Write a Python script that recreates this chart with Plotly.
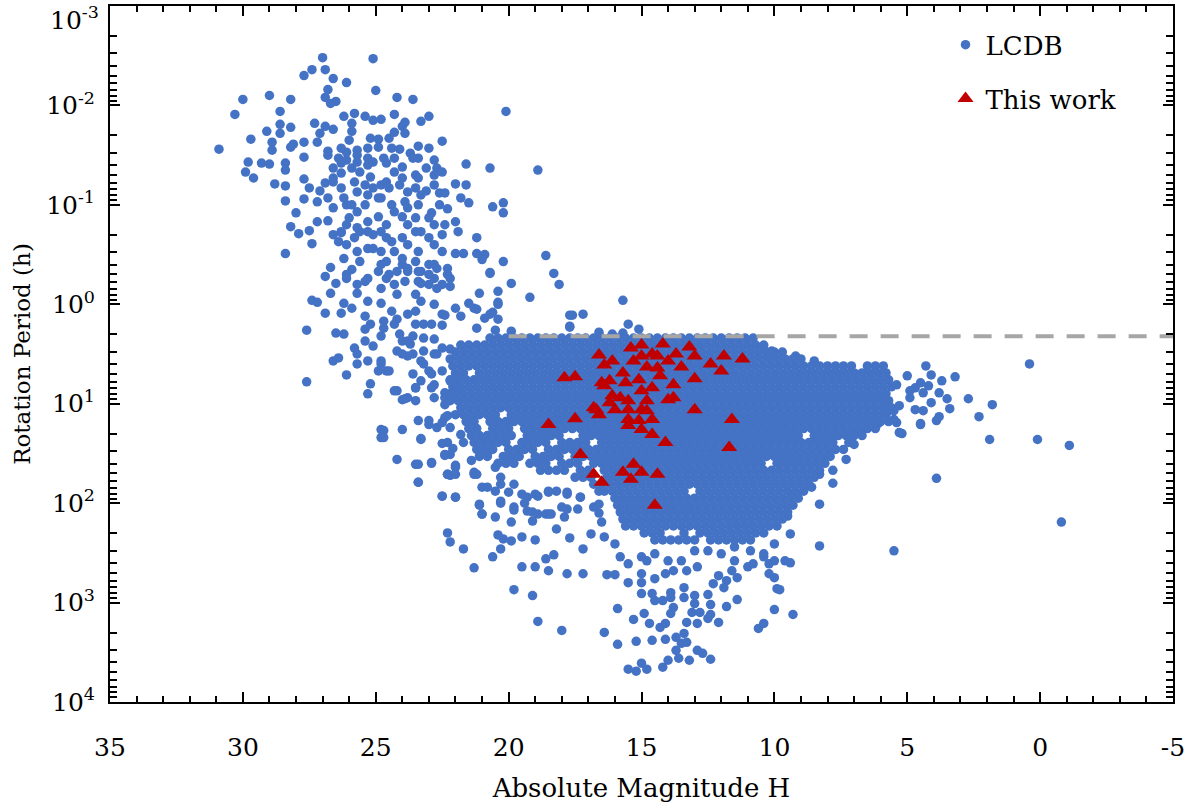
import plotly.graph_objects as go

# ---------------- data (H = absolute magnitude, logP = log10 rotation period [h]) ----------------
# LCDB: small fast rotators (upper-left cloud)
fast_H = [27.0, 25.1, 27.4, 26.9, 27.7, 26.6, 26.1, 26.8, 25.0, 26.9, 26.5, 26.7, 30.0, 29.0, 28.2, 24.2, 23.6, 20.1,
          30.3, 28.6, 26.2, 25.8, 25.4, 25.1, 24.8, 24.3, 23.9, 24.0, 23.3, 23.0, 28.6, 28.2, 27.3, 26.9, 26.6, 25.9,
          25.9, 29.1, 28.6, 29.7, 28.9, 27.7, 27.1, 27.2, 26.0, 25.2, 24.9, 24.5, 24.3, 23.9, 22.5, 30.9, 28.9, 28.2,
          28.1, 27.7, 26.8, 26.8, 26.3, 26.1, 25.7, 25.3, 24.9, 24.4, 24.1, 23.7, 23.4, 23.0, 29.8, 29.9, 29.6, 29.3,
          29.0, 28.4, 28.4, 26.4, 26.1, 25.7, 25.3, 24.7, 24.6, 24.3, 24.0, 23.6, 23.4, 22.8, 22.7, 21.6, 20.7, 26.6,
          26.3, 25.9, 25.6, 25.2, 24.8, 24.3, 23.5, 23.1, 22.8, 22.5, 28.8, 28.4, 27.7, 27.5, 26.9, 27.1, 26.6, 26.3,
          25.8, 25.4, 25.1, 24.5, 24.1, 23.5, 23.1, 22.6, 22.4, 22.0, 21.6, 28.4, 27.7, 27.2, 26.8, 26.6, 26.2, 25.9,
          25.4, 24.9, 24.4, 23.9, 23.4, 22.9, 22.6, 22.3, 21.8, 21.5, 20.6, 20.2, 20.2, 28.0, 28.2, 27.9, 27.5, 27.4,
          27.2, 26.8, 26.6, 26.3, 26.0, 25.7, 25.3, 24.9, 24.6, 24.0, 23.8, 23.3, 22.8, 22.4, 22.0, 21.9, 21.2, 25.6,
          25.1, 24.4, 28.4, 26.4, 26.1, 25.7, 25.3, 24.8, 24.3, 23.8, 23.4, 22.8, 22.5, 22.0, 21.7, 21.2, 20.9, 20.2,
          20.7, 19.9, 26.9, 26.7, 26.5, 26.2, 25.9, 25.6, 25.3, 24.9, 24.6, 24.6, 24.0, 23.9, 23.5, 23.4, 23.0, 22.8,
          22.3, 22.2, 26.6, 26.3, 25.7, 25.3, 25.1, 25.7, 26.1, 25.3, 24.8, 24.6, 24.0, 23.8, 23.3, 23.4, 22.8, 24.3,
          23.8, 23.5, 23.0, 24.8, 24.6, 24.0, 23.5, 23.0, 22.5, 25.1, 24.0, 23.8, 23.3, 22.8, 23.0, 22.5, 24.3, 25.7,
          26.1, 25.8, 26.3, 26.1, 25.7, 25.3]
fast_logP = [-2.48, -2.47, -2.36, -2.36, -2.30, -2.27, -2.23, -2.16, -2.15, -2.08, -2.04, -2.02, -2.06, -2.10, -2.06,
             -2.08, -2.06, -1.94, -1.91, -1.94, -1.89, -1.92, -1.89, -1.85, -1.86, -1.91, -1.83, -1.79, -1.84, -1.89,
             -1.81, -1.78, -1.82, -1.79, -1.76, -1.82, -1.74, -1.74, -1.72, -1.66, -1.63, -1.63, -1.72, -1.63, -1.65,
             -1.67, -1.66, -1.67, -1.73, -1.72, -1.64, -1.56, -1.55, -1.58, -1.61, -1.48, -1.54, -1.50, -1.57, -1.53,
             -1.55, -1.57, -1.58, -1.57, -1.56, -1.52, -1.59, -1.57, -1.43, -1.33, -1.27, -1.42, -1.41, -1.42, -1.35,
             -1.47, -1.45, -1.50, -1.47, -1.47, -1.42, -1.47, -1.38, -1.47, -1.47, -1.45, -1.37, -1.41, -1.37, -1.37,
             -1.32, -1.37, -1.33, -1.28, -1.20, -1.33, -1.30, -1.37, -1.30, -1.33, -1.21, -1.19, -1.26, -1.17, -1.22,
             -1.14, -1.23, -1.17, -1.23, -1.20, -1.17, -1.17, -1.20, -1.17, -1.14, -1.12, -1.12, -1.21, -1.20, -1.04,
             -1.06, -1.03, -1.07, -0.97, -1.07, -1.00, -1.00, -1.07, -1.00, -1.03, -1.00, -0.92, -1.00, -0.96, -1.07,
             -1.02, -0.98, -1.02, -0.92, -0.92, -0.78, -0.71, -0.74, -0.61, -0.83, -0.84, -0.70, -0.72, -0.87, -0.93,
             -0.83, -0.88, -0.80, -0.88, -0.80, -0.73, -0.80, -0.80, -0.83, -0.73, -0.67, -0.73, -0.70, -0.63, -0.51,
             -0.63, -0.60, -0.53, -0.56, -0.53, -0.53, -0.60, -0.53, -0.60, -0.53, -0.51, -0.51, -0.51, -0.50, -0.43,
             -0.32, -0.21, -0.28, -0.37, -0.21, -0.46, -0.35, -0.43, -0.26, -0.33, -0.43, -0.26, -0.40, -0.23, -0.43,
             -0.23, -0.40, -0.26, -0.36, -0.26, -1.27, -1.42, -1.43, -1.40, -1.43, -1.13, -1.00, -1.10, -1.07, -1.23,
             -1.27, -1.13, -1.10, -1.27, -1.20, -0.93, -0.97, -0.87, -0.87, -0.73, -0.67, -0.67, -0.73, -0.67, -0.70,
             -0.56, -0.46, -0.33, -0.33, -0.40, -0.20, -0.20, -0.20, -0.20, -0.26, -0.67, -0.73, -0.80, -0.77, -0.73]

# LCDB: transition zone between the fast cloud and the main clump
mid_H = [26.7, 27.4, 27.2, 26.9, 26.2, 26.3, 25.9, 25.7, 25.3, 25.4, 25.2, 25.4, 27.6, 26.5, 26.2, 25.4, 25.1, 24.8,
         24.7, 24.4, 24.2, 23.8, 23.5, 23.5, 23.2, 22.9, 23.2, 22.8, 22.5, 22.5, 22.4, 22.0, 21.8, 21.5, 21.3, 21.1,
         20.7, 20.4, 20.4, 20.7, 19.2, 18.3, 18.1, 17.6, 17.2, 17.7, 24.8, 24.5, 24.2, 23.8, 23.4, 23.3, 23.0, 22.7,
         22.3, 22.2, 22.7, 23.5, 24.2, 24.8, 25.4, 26.1, 24.8, 23.3, 22.8, 25.8, 26.6, 26.4, 25.7, 25.3, 24.9, 24.6,
         24.8, 24.2, 24.0, 23.7, 23.8, 23.3, 22.8, 22.5, 22.2, 27.6, 26.1, 25.7, 25.2, 25.3, 24.2, 24.0, 23.8, 23.5,
         23.5, 23.3, 22.8, 22.8, 22.4, 22.4, 21.9, 22.0, 22.5, 23.0, 24.8, 24.8, 24.0, 23.4, 23.3, 23.0, 22.7, 22.4,
         22.2, 22.0, 22.3, 21.8, 21.7, 24.2, 23.5, 22.9, 23.4, 22.4, 22.2, 22.0, 22.3, 21.4, 21.3, 21.0, 22.5, 22.0,
         21.1, 21.0, 20.5, 20.3, 19.8, 19.3, 18.9, 18.5, 18.0, 17.8, 17.3, 16.8, 20.8, 20.5, 20.3, 19.8, 19.5, 19.0,
         18.5, 18.2, 24.7, 24.3, 24.1, 23.8, 23.6, 24.0, 23.6, 23.2, 22.7, 23.2, 23.6, 23.5, 22.9, 22.2, 22.2, 22.9,
         22.4, 24.3, 23.9, 24.5, 24.8, 23.0, 22.5, 22.3, 24.7, 24.7, 23.3, 22.5, 22.1, 22.4, 22.0, 22.2, 21.3, 18.9,
         21.0, 18.6, 20.4, 21.2, 20.6, 20.9, 20.4, 15.7, 17.7, 15.5, 21.2, 20.5, 19.9, 16.6, 16.1, 15.7, 15.1, 17.7,
         10.4, 10.1, 9.2, 8.5]
mid_logP = [-0.11, -0.04, -0.02, 0.09, -0.01, 0.09, 0.04, -0.11, -0.03, 0.12, 0.20, 0.25, 0.26, 0.29, 0.30, 0.37, 0.42,
            0.32, 0.17, 0.07, 0.15, 0.10, 0.07, 0.20, 0.20, 0.20, 0.34, 0.35, 0.21, 0.10, 0.11, 0.04, 0.12, -0.01, 0.04,
            -0.11, 0.10, 0.00, -0.13, -0.31, -0.07, -0.31, -0.20, 0.11, 0.10, 0.22, -0.40, -0.30, -0.33, -0.36, -0.33,
            -0.21, -0.30, -0.36, -0.30, -0.18, -0.16, -0.10, -0.10, -0.16, -0.23, -0.30, -0.01, -0.03, 0.00, 0.44, 0.57,
            0.54, 0.50, 0.57, 0.67, 0.67, 0.57, 0.47, 0.37, 0.40, 0.52, 0.57, 0.50, 0.44, 0.45, 0.78, 0.71, 0.60, 0.80,
            0.90, 0.87, 0.96, 0.94, 0.97, 0.84, 0.77, 0.81, 0.94, 0.89, 1.01, 0.84, 0.74, 0.67, 0.67, 1.26, 1.34, 1.26,
            1.17, 1.36, 1.21, 1.24, 1.14, 1.24, 1.11, 1.39, 1.31, 1.39, 1.56, 1.61, 1.59, 1.79, 1.51, 1.51, 1.64, 1.71,
            1.57, 1.71, 1.84, 1.93, 1.94, 2.01, 2.11, 1.88, 1.98, 2.04, 2.08, 2.11, 2.11, 2.04, 1.91, 1.94, 2.04, 1.51,
            1.64, 1.74, 1.81, 1.91, 1.91, 1.88, 1.88, 0.24, 0.20, 0.30, 0.37, 0.32, 0.50, 0.50, 0.47, 0.50, 0.60, 0.70,
            0.84, 0.70, 0.77, 0.90, 0.84, 0.94, 0.87, 0.95, 0.67, 0.60, 1.17, 1.19, 1.12, 1.27, 1.34, 1.35, 1.40, 1.45,
            1.52, 1.62, 1.72, 1.69, -1.35, -0.45, -0.49, -0.02, 0.05, 0.08, 0.14, 0.15, -0.04, 0.23, 0.20, 0.24, 0.26,
            0.27, 0.28, 0.30, 0.29, 0.25, 0.11, 0.45, 0.47, 0.52, 0.57]

# LCDB: main clump, read row by row (one list of H per period row)
core_logP = [0.34, 0.41, 0.48, 0.55, 0.62, 0.69, 0.76, 0.83, 0.90, 0.97, 1.04, 1.11, 1.18, 1.25, 1.32, 1.39, 1.46,
             1.53, 1.60, 1.67, 1.74, 1.81, 1.88, 1.95, 2.02, 2.09, 2.16, 2.23, 2.30, 2.37]
core_H = [
    [20.7, 20.4, 20.1, 19.8, 19.5, 19.2, 18.9, 18.6, 18.3, 18.0, 17.7, 17.4, 17.1, 16.8, 16.5, 16.2, 15.9, 15.6, 15.3,
     15.0, 14.7, 14.4, 14.1, 13.8, 13.5, 13.2, 12.9, 12.6, 12.3, 12.0, 11.7, 11.4, 11.1, 10.8],
    [21.8, 21.5, 21.2, 20.9, 20.6, 20.3, 20.0, 19.7, 19.4, 19.1, 18.8, 18.5, 18.2, 17.9, 17.6, 17.3, 17.0, 16.7, 16.4,
     16.1, 15.8, 15.5, 15.2, 14.9, 14.6, 14.3, 14.0, 13.7, 13.4, 13.1, 12.8, 12.5, 12.2, 11.9, 11.6, 11.3, 11.0, 10.7,
     10.4],
    [22.0, 21.7, 21.4, 21.1, 20.8, 20.5, 20.2, 19.9, 19.6, 19.3, 19.0, 18.7, 18.4, 18.1, 17.8, 17.5, 17.2, 16.9, 16.6,
     16.3, 16.0, 15.7, 15.4, 15.1, 14.8, 14.5, 14.2, 13.9, 13.6, 13.3, 13.0, 12.7, 12.4, 12.1, 11.8, 11.5, 11.2, 10.9,
     10.6, 10.3, 10.0, 9.7],
    [22.2, 21.9, 21.6, 21.3, 21.0, 20.7, 20.4, 20.1, 19.8, 19.5, 19.2, 18.9, 18.6, 18.3, 18.0, 17.7, 17.4, 17.1, 16.8,
     16.5, 16.2, 15.9, 15.6, 15.3, 15.0, 14.7, 14.4, 14.1, 13.8, 13.5, 13.2, 12.9, 12.6, 12.3, 12.0, 11.7, 11.4, 11.1,
     10.8, 10.5, 10.2, 9.9, 9.6, 9.3, 9.0],
    [22.1, 21.8, 21.5, 21.2, 20.9, 20.6, 20.3, 20.0, 19.7, 19.4, 19.1, 18.8, 18.5, 18.2, 17.9, 17.6, 17.3, 17.0, 16.7,
     16.4, 16.1, 15.8, 15.5, 15.2, 14.9, 14.6, 14.3, 14.0, 13.7, 13.4, 13.1, 12.8, 12.5, 12.2, 11.9, 11.6, 11.3, 11.0,
     10.7, 10.4, 10.1, 9.8, 9.5, 9.2, 8.9, 8.6, 8.3, 8.0, 7.7, 7.4, 7.1, 6.5, 6.2, 5.9],
    [22.0, 21.7, 21.1, 20.8, 20.5, 20.2, 19.9, 19.6, 19.3, 19.0, 18.7, 18.4, 18.1, 17.8, 17.5, 17.2, 16.9, 16.6, 16.3,
     16.0, 15.7, 15.4, 15.1, 14.8, 14.5, 14.2, 13.9, 13.6, 13.3, 13.0, 12.7, 12.4, 12.1, 11.8, 11.5, 11.2, 10.9, 10.6,
     10.3, 10.0, 9.7, 9.4, 9.1, 8.8, 8.5, 8.2, 7.9, 7.6, 7.3, 7.0, 6.7, 6.4, 6.1, 5.8],
    [22.2, 21.9, 21.6, 21.3, 21.0, 20.7, 20.4, 20.1, 19.8, 19.5, 19.2, 18.9, 18.6, 18.3, 18.0, 17.7, 17.4, 17.1, 16.8,
     16.5, 16.2, 15.9, 15.6, 15.3, 15.0, 14.7, 14.4, 14.1, 13.8, 13.5, 13.2, 12.9, 12.6, 12.3, 12.0, 11.7, 11.4, 11.1,
     10.8, 10.5, 10.2, 9.9, 9.6, 9.3, 9.0, 8.7, 8.4, 8.1, 7.8, 7.5, 7.2, 6.9, 6.6, 6.3, 6.0, 5.7],
    [22.1, 21.8, 21.5, 21.2, 20.9, 20.6, 20.3, 20.0, 19.7, 19.4, 19.1, 18.8, 18.5, 18.2, 17.9, 17.6, 17.3, 17.0, 16.7,
     16.4, 16.1, 15.8, 15.5, 15.2, 14.9, 14.6, 14.3, 14.0, 13.7, 13.4, 13.1, 12.8, 12.5, 12.2, 11.9, 11.6, 11.3, 11.0,
     10.7, 10.4, 10.1, 9.8, 9.5, 9.2, 8.9, 8.6, 8.3, 8.0, 7.7, 7.4, 7.1, 6.8, 6.5, 6.2, 5.9, 5.6],
    [22.0, 21.7, 21.4, 21.1, 20.8, 20.5, 20.2, 19.9, 19.6, 19.3, 19.0, 18.7, 18.4, 18.1, 17.8, 17.5, 17.2, 16.9, 16.6,
     16.3, 16.0, 15.7, 15.4, 15.1, 14.8, 14.5, 14.2, 13.9, 13.6, 13.3, 13.0, 12.7, 12.4, 12.1, 11.8, 11.5, 11.2, 10.9,
     10.6, 10.3, 10.0, 9.7, 9.4, 9.1, 8.8, 8.5, 8.2, 7.9, 7.6, 7.3, 7.0, 6.7, 6.4, 6.1, 5.8],
    [22.2, 21.9, 21.6, 21.3, 21.0, 20.7, 20.4, 20.1, 19.8, 19.5, 19.2, 18.9, 18.6, 18.3, 18.0, 17.7, 17.4, 17.1, 16.8,
     16.5, 16.2, 15.9, 15.6, 15.3, 15.0, 14.7, 14.4, 14.1, 13.8, 13.5, 13.2, 12.9, 12.6, 12.3, 12.0, 11.7, 11.4, 11.1,
     10.8, 10.5, 10.2, 9.9, 9.6, 9.3, 9.0, 8.7, 8.4, 8.1, 7.8, 7.5, 7.2, 6.9, 6.6, 6.3, 6.0, 5.7],
    [21.8, 21.5, 21.2, 20.9, 20.6, 20.3, 20.0, 19.7, 19.4, 19.1, 18.8, 18.5, 18.2, 17.9, 17.6, 17.3, 17.0, 16.7, 16.4,
     16.1, 15.8, 15.5, 15.2, 14.9, 14.6, 14.3, 14.0, 13.7, 13.4, 13.1, 12.8, 12.5, 12.2, 11.9, 11.6, 11.3, 11.0, 10.7,
     10.4, 10.1, 9.8, 9.5, 9.2, 8.9, 8.6, 8.3, 8.0, 7.7, 7.4, 7.1, 6.8, 6.5, 6.2, 5.9, 5.6],
    [21.7, 21.4, 21.1, 20.8, 20.5, 19.9, 19.6, 19.3, 19.0, 18.7, 18.4, 18.1, 17.8, 17.5, 17.2, 16.9, 16.6, 16.3, 16.0,
     15.7, 15.4, 15.1, 14.8, 14.5, 14.2, 13.9, 13.6, 13.3, 13.0, 12.7, 12.4, 12.1, 11.8, 11.5, 11.2, 10.9, 10.6, 10.3,
     10.0, 9.7, 9.4, 9.1, 8.8, 8.5, 8.2, 7.9, 7.6, 7.3, 7.0, 6.7, 6.4, 6.1, 5.8],
    [21.6, 21.3, 20.7, 20.4, 20.1, 19.8, 19.5, 19.2, 18.9, 18.6, 18.3, 18.0, 17.7, 17.4, 17.1, 16.8, 16.5, 16.2, 15.9,
     15.6, 15.3, 15.0, 14.7, 14.4, 14.1, 13.8, 13.5, 13.2, 12.9, 12.6, 12.3, 12.0, 11.7, 11.4, 11.1, 10.8, 10.5, 10.2,
     9.9, 9.6, 9.3, 9.0, 8.7, 8.4, 8.1, 7.8, 7.5, 7.2, 6.9, 6.6, 6.3, 6.0, 5.7],
    [21.5, 21.2, 20.6, 20.3, 20.0, 19.4, 19.1, 18.8, 18.5, 18.2, 17.9, 17.6, 17.3, 17.0, 16.7, 16.4, 16.1, 15.8, 15.5,
     15.2, 14.9, 14.6, 14.3, 14.0, 13.7, 13.4, 13.1, 12.8, 12.5, 12.2, 11.9, 11.6, 11.3, 11.0, 10.7, 10.4, 10.1, 9.8,
     9.5, 9.2, 8.9, 8.6, 8.3, 8.0, 7.7, 7.4, 7.1, 6.8, 6.5, 6.2],
    [21.4, 21.1, 20.8, 20.5, 20.2, 19.9, 19.3, 19.0, 18.7, 18.4, 18.1, 17.2, 16.9, 16.6, 16.3, 16.0, 15.7, 15.4, 15.1,
     14.8, 14.5, 14.2, 13.9, 13.6, 13.3, 13.0, 12.7, 12.4, 12.1, 11.8, 11.5, 11.2, 10.9, 10.6, 10.3, 10.0, 9.7, 9.4,
     9.1, 8.5, 8.2, 7.9, 7.6, 7.3, 7.0, 6.7],
    [21.3, 21.0, 20.7, 20.4, 20.1, 19.5, 19.2, 18.9, 18.6, 18.0, 17.7, 17.4, 17.1, 16.5, 16.2, 15.9, 15.6, 15.3, 15.0,
     14.7, 14.4, 14.1, 13.8, 13.5, 13.2, 12.9, 12.6, 12.3, 12.0, 11.7, 11.4, 11.1, 10.8, 10.5, 10.2, 9.9, 9.6, 9.3,
     9.0, 8.7, 8.4, 8.1, 7.8, 7.2],
    [21.2, 20.9, 20.6, 20.0, 19.7, 19.4, 19.1, 18.5, 18.2, 17.9, 17.6, 17.3, 17.0, 16.7, 16.4, 16.1, 15.8, 15.5, 15.2,
     14.9, 14.6, 14.3, 14.0, 13.7, 13.4, 13.1, 12.8, 12.5, 12.2, 11.9, 11.6, 11.3, 11.0, 10.7, 10.4, 10.1, 9.8, 9.5,
     9.2, 8.9, 8.6, 8.3, 8.0, 7.7, 7.4],
    [21.1, 20.8, 20.2, 19.9, 19.6, 19.0, 18.7, 18.4, 18.1, 17.5, 17.2, 16.9, 16.6, 16.3, 16.0, 15.7, 15.4, 15.1, 14.8,
     14.5, 14.2, 13.9, 13.6, 13.3, 13.0, 12.7, 12.4, 12.1, 11.8, 11.5, 11.2, 10.9, 10.6, 10.3, 10.0, 9.7, 9.4, 9.1,
     8.8, 8.5, 8.2, 7.9],
    [20.4, 20.1, 19.8, 19.2, 18.9, 18.6, 18.0, 17.7, 17.4, 16.8, 16.5, 16.2, 15.9, 15.6, 15.3, 15.0, 14.7, 14.4, 14.1,
     13.8, 13.5, 13.2, 12.9, 12.6, 12.3, 12.0, 11.7, 11.4, 11.1, 10.8, 10.5, 9.9, 9.6, 9.3, 9.0, 8.7, 8.4, 8.1],
    [18.8, 18.5, 18.2, 17.9, 17.3, 17.0, 16.4, 16.1, 15.8, 15.5, 15.2, 14.9, 14.6, 14.3, 14.0, 13.7, 13.4, 13.1, 12.8,
     12.5, 12.2, 11.9, 11.6, 11.3, 11.0, 10.7, 10.4, 10.1, 9.8, 9.5, 9.2, 8.9, 8.6, 8.3],
    [17.5, 17.2, 16.9, 16.3, 16.0, 15.7, 15.4, 15.1, 14.8, 14.5, 14.2, 13.9, 13.6, 13.3, 13.0, 12.7, 12.4, 12.1, 11.8,
     11.5, 11.2, 10.9, 10.6, 10.3, 10.0, 9.7, 9.4, 9.1, 8.8, 8.5],
    [16.8, 16.5, 16.2, 15.9, 15.6, 15.3, 15.0, 14.7, 14.4, 14.1, 13.8, 13.5, 13.2, 12.9, 12.6, 12.3, 12.0, 11.7, 11.4,
     11.1, 10.8, 10.5, 10.2, 9.9, 9.6, 9.3, 9.0, 8.7],
    [16.4, 16.1, 15.8, 15.5, 15.2, 14.9, 14.6, 14.3, 14.0, 13.7, 13.4, 12.8, 12.5, 12.2, 11.9, 11.6, 11.3, 11.0, 10.7,
     10.4, 10.1, 9.8, 9.5, 9.2, 8.9],
    [16.0, 15.7, 15.4, 15.1, 14.8, 14.5, 14.2, 13.9, 13.6, 13.3, 13.0, 12.7, 12.4, 12.1, 11.8, 11.5, 11.2, 10.9, 10.6,
     10.3, 10.0, 9.7, 9.4, 9.1],
    [15.9, 15.6, 15.3, 15.0, 14.7, 14.4, 14.1, 13.8, 13.5, 13.2, 12.9, 12.6, 12.3, 12.0, 11.7, 11.4, 11.1, 10.8, 10.5,
     10.2, 9.9, 9.6, 9.3],
    [15.8, 15.5, 15.2, 14.9, 14.6, 14.3, 14.0, 13.7, 13.4, 13.1, 12.8, 12.5, 12.2, 11.9, 11.6, 11.3, 11.0, 10.7, 10.4,
     10.1, 9.8, 9.5],
    [15.7, 15.4, 15.1, 14.8, 14.5, 14.2, 13.9, 13.6, 13.3, 13.0, 12.7, 12.4, 12.1, 11.8, 11.5, 11.2, 10.9, 10.6, 10.3,
     10.0, 9.7],
    [15.6, 15.3, 15.0, 14.7, 14.4, 14.1, 13.8, 13.5, 13.2, 12.9, 12.6, 12.3, 12.0, 11.7, 11.4, 11.1, 10.8, 10.5, 10.2,
     9.9],
    [14.9, 14.6, 14.3, 13.4, 12.8, 12.5, 12.2, 11.9, 11.6, 11.3, 11.0, 10.7, 10.4],
    [14.5, 14.2, 13.9, 13.6, 13.3, 13.0, 12.4, 12.1, 11.8, 11.5, 11.2, 10.9],
]

# LCDB: slow rotators below the main clump
slow_H = [23.4, 22.9, 23.4, 22.3, 22.0, 21.2, 20.8, 20.3, 20.0, 19.3, 18.9, 18.5, 17.8, 17.3, 16.6, 22.5, 22.0, 21.1,
          21.0, 20.5, 20.3, 19.8, 19.9, 19.4, 19.1, 19.1, 18.6, 18.4, 17.9, 17.8, 17.4, 16.6, 16.6, 16.5, 22.3, 22.2,
          21.7, 21.3, 20.6, 20.3, 20.4, 20.2, 19.9, 19.5, 19.0, 19.5, 19.0, 18.6, 18.3, 18.5, 18.2, 17.7, 17.2, 16.9,
          16.4, 17.8, 17.2, 16.3, 16.0, 19.8, 19.1, 15.9, 18.9, 18.0, 16.4, 15.9, 15.2, 15.3, 15.0, 14.9, 14.7, 14.6,
          14.3, 14.1, 14.1, 15.5, 15.2, 15.0, 14.8, 14.2, 14.0, 13.6, 13.2, 13.7, 13.5, 13.7, 13.3, 13.4, 12.9, 12.7,
          12.4, 13.3, 12.9, 13.1, 12.8, 12.5, 12.4, 12.1, 13.9, 13.8, 13.4, 13.4, 13.0, 13.0, 13.9, 14.2, 14.5, 14.6,
          13.9, 12.5, 12.4, 11.9, 11.8, 11.4, 10.6, 10.4, 10.0, 9.3, 9.9, 10.0, 10.2, 9.4, 15.0, 14.5, 15.5, 15.0,
          14.1, 13.8, 13.3, 12.9, 12.3, 12.1, 11.6, 11.5, 11.0, 10.8, 10.2, 10.0, 10.4, 9.6, 9.5, 9.4, 9.2, 8.3, 8.3,
          10.0, 10.4, 10.9, 11.5, 12.0, 11.4, 11.8, 16.0, 15.8, 15.5, 15.0, 14.8, 14.5, 14.0, 13.5, 13.0, 12.5]
slow_logP = [1.61, 1.60, 1.79, 1.71, 1.71, 1.71, 1.84, 1.81, 1.89, 1.94, 1.93, 1.89, 1.89, 1.94, 1.88, 1.93, 1.94,
             2.02, 2.11, 2.14, 2.00, 2.07, 2.19, 2.00, 2.09, 2.18, 2.11, 2.11, 2.14, 2.06, 2.06, 2.01, 2.10, 2.19, 2.30,
             2.39, 2.46, 2.65, 2.54, 2.46, 2.32, 2.36, 2.38, 2.34, 2.37, 2.64, 2.64, 2.56, 2.52, 2.68, 2.26, 2.35, 2.46,
             2.31, 2.34, 2.71, 2.71, 2.72, 2.72, 2.87, 2.93, 3.06, 3.19, 3.28, 3.30, 3.42, 3.39, 3.17, 2.91, 3.11, 3.21,
             3.38, 3.25, 3.21, 3.37, 3.67, 3.69, 3.61, 3.67, 3.65, 3.58, 3.56, 3.58, 3.48, 3.41, 3.35, 3.40, 3.31, 3.48,
             3.51, 3.57, 3.20, 3.21, 3.10, 3.10, 3.16, 3.12, 3.20, 3.11, 3.05, 2.85, 2.95, 2.93, 3.01, 2.95, 2.98, 2.98,
             2.91, 2.90, 2.92, 3.02, 2.85, 3.04, 2.97, 3.26, 3.21, 3.07, 3.12, 2.86, 2.75, 2.71, 2.60, 2.80, 2.76, 2.80,
             2.71, 2.71, 2.68, 2.68, 2.64, 2.81, 2.73, 2.68, 2.58, 2.64, 2.61, 2.61, 2.58, 2.51, 2.58, 2.13, 2.31, 1.91,
             2.01, 2.43, 2.41, 2.54, 2.48, 2.44, 2.51, 2.75, 2.78, 2.41, 2.54, 2.61, 2.54, 2.58, 2.51, 2.58, 2.58, 2.48,
             2.48]

# LCDB: large bodies (right-hand tail and outliers)
bright_H = [0.4, 0.1, -1.1, 1.9, 3.9, -0.8, 5.5, 9.8, 8.6, 7.8, 8.3, 7.8, 7.3, 7.0, 6.8, 6.1, 5.4, 5.2, 4.5, 3.9, 2.3,
            1.8, 2.7, 3.2, 4.3, 5.3, 4.5, 3.8, 3.4, 3.5, 3.8, 4.1, 4.4, 4.7, 4.4, 4.2, 3.7, 4.1, 4.5, 4.7, 4.9, 4.9,
            5.5, 5.5, 5.3, 5.7, 5.9, 6.1, 6.2, 5.4, 5.0]
bright_logP = [0.60, 1.36, 1.42, 1.36, 1.75, 2.19, 2.48, 2.87, 1.84, 1.80, 1.71, 1.67, 1.56, 1.41, 1.27, 1.20, 1.19,
               1.30, 1.21, 1.17, 1.13, 1.01, 0.95, 0.73, 0.62, 1.29, 1.20, 1.13, 1.05, 0.95, 0.89, 0.99, 1.07, 1.06,
               0.89, 0.82, 0.77, 0.71, 0.79, 0.84, 0.94, 0.87, 1.16, 1.07, 1.02, 1.07, 0.97, 1.19, 1.17, 0.81, 0.72]

# This work
work_H = [16.6, 16.1, 15.4, 15.0, 14.2, 13.7, 13.2, 13.0, 14.4, 14.6, 15.0, 14.4, 14.0, 12.4, 11.9, 11.2, 12.0, 13.0,
          13.8, 17.9, 17.5, 16.5, 16.2, 15.7, 15.6, 15.1, 14.6, 15.0, 16.1, 15.8, 15.5, 14.8, 14.0, 13.8, 16.8, 16.7,
          16.2, 16.0, 15.5, 15.0, 14.8, 13.0, 17.5, 16.6, 15.5, 15.1, 14.6, 15.5, 15.0, 14.6, 11.6, 14.1, 11.7, 17.3,
          16.8, 16.5, 15.7, 15.3, 15.4, 15.0, 14.4, 14.5, 18.5, 16.4, 15.3, 14.8, 13.5, 16.4, 14.3]
work_logP = [0.51, 0.57, 0.44, 0.41, 0.40, 0.50, 0.43, 0.52, 0.52, 0.50, 0.52, 0.64, 0.57, 0.60, 0.52, 0.55, 0.67,
             0.75, 0.81, 0.74, 0.73, 0.79, 0.77, 0.69, 0.79, 0.76, 0.84, 0.87, 0.92, 0.94, 0.97, 0.97, 0.96, 0.94,
             1.04, 1.06, 0.99, 1.06, 1.06, 1.06, 1.07, 1.06, 1.15, 1.11, 1.16, 1.17, 1.16, 1.22, 1.26, 1.31, 1.16,
             1.39, 1.44, 1.51, 1.71, 1.79, 1.69, 1.61, 1.76, 1.69, 1.71, 2.02, 1.21, 0.82, 0.57, 0.63, 0.63, 0.61,
             0.72]

# spin barrier (~2.1 h) drawn from H = 20 to the right edge
barrier_H = [20, -5]
barrier_P = [2.1, 2.1]

x_ticks = [35, 30, 25, 20, 15, 10, 5, 0, -5]
x_tick_text = ["35", "30", "25", "20", "15", "10", "5", "0", "-5"]
y_ticks = [1e-2, 1e-1, 1e0, 1e1, 1e2, 1e3, 1e4]
y_tick_text = ["10<sup>-2</sup>", "10<sup>-1</sup>", "10<sup>0</sup>", "10<sup>1</sup>",
               "10<sup>2</sup>", "10<sup>3</sup>", "10<sup>4</sup>"]

# ---------------- assemble ----------------
lcdb_H = fast_H + mid_H + slow_H + bright_H
lcdb_logP = fast_logP + mid_logP + slow_logP + bright_logP
for lp, row in zip(core_logP, core_H):
    lcdb_H += row
    lcdb_logP += [lp] * len(row)
lcdb_P = [10 ** v for v in lcdb_logP]
work_P = [10 ** v for v in work_logP]

FONT = "DejaVu Serif"
BLUE = "#4472C4"
RED = "#C00000"

fig = go.Figure()
fig.add_trace(go.Scatter(x=lcdb_H, y=lcdb_P, mode="markers", name="LCDB", legendgroup="a",
                         marker=dict(color=BLUE, size=9.5, line=dict(width=0))))
fig.add_trace(go.Scatter(x=barrier_H, y=barrier_P, mode="lines", showlegend=False, hoverinfo="skip",
                         line=dict(color="#A6A6A6", width=4, dash="18px,13px")))
fig.add_trace(go.Scatter(x=work_H, y=work_P, mode="markers", name="This work", legendgroup="b",
                         marker=dict(color=RED, size=14, symbol="triangle-up", line=dict(width=0))))

axis_common = dict(showline=True, linewidth=2, linecolor="black", mirror="ticks", ticks="inside",
                   tickwidth=2, tickcolor="black", showgrid=False, zeroline=False,
                   tickfont=dict(family=FONT, size=25, color="black"))

fig.update_xaxes(range=[35, -5], tickmode="array", tickvals=x_ticks, ticktext=x_tick_text, ticklen=10,
                 minor=dict(ticks="inside", ticklen=6, tickwidth=1.5, tickcolor="black", dtick=1, showgrid=False),
                 ticklabelstandoff=22,
                 title=dict(text="Absolute Magnitude H", font=dict(family=FONT, size=26, color="black"), standoff=18),
                 **axis_common)
fig.update_yaxes(type="log", range=[4, -3], tickmode="array", tickvals=y_ticks, ticktext=y_tick_text, ticklen=10,
                 minor=dict(ticks="inside", ticklen=7, tickwidth=1.5, tickcolor="black", dtick="D1", showgrid=False),
                 ticklabelstandoff=8,
                 title=dict(text="Rotation Period (h)", font=dict(family=FONT, size=23, color="black"), standoff=9),
                 **axis_common)

fig.add_annotation(text="10<sup>-3</sup>", xref="paper", yref="paper", x=0, y=1, xanchor="right",
                   yanchor="middle", xshift=-9, yshift=-12, showarrow=False,
                   font=dict(family=FONT, size=25, color="black"))

fig.update_layout(width=1191, height=807, margin=dict(l=110, r=18, t=4, b=105),
                  plot_bgcolor="white", paper_bgcolor="white",
                  legend=dict(x=0.786, y=0.978, xanchor="left", yanchor="top", traceorder="grouped",
                              tracegroupgap=17, bgcolor="rgba(0,0,0,0)",
                              font=dict(family=FONT, size=26, color="black")))

fig.write_html("out.html", config={"displayModeBar": False},
               post_script="document.body.style.margin='0';document.body.style.overflow='hidden';")
